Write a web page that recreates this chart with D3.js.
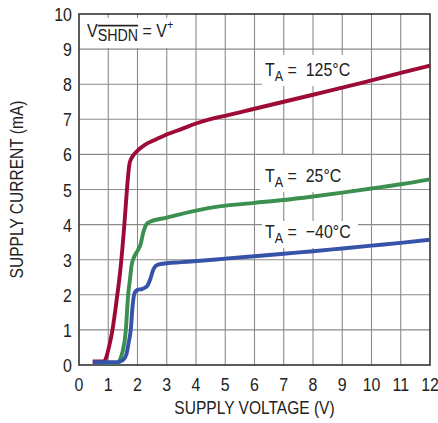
<!DOCTYPE html>
<html>
<head>
<meta charset="utf-8">
<script src="https://cdn.jsdelivr.net/npm/d3@7"></script>
<style>
  body { margin: 0; background: #fff; }
  svg text { font-family: "Liberation Sans", Arial, sans-serif; fill: #222; white-space: pre; }
</style>
</head>
<body>
<div id="chart"></div>
<script>
// supply voltage (V) vs supply current (mA)
var red125 = [
  [0.47, 0.1], [0.82, 0.1], [0.9, 0.15], [0.97, 0.33], [1.05, 0.6], [1.14, 0.98],
  [1.31, 2.0], [1.4, 2.6], [1.55, 3.99], [1.63, 4.9], [1.68, 5.4], [1.73, 5.75],
  [1.8, 5.9], [1.97, 6.08], [2.25, 6.27], [2.59, 6.41], [3.04, 6.58], [3.5, 6.72],
  [4.0, 6.88], [4.66, 7.04], [5, 7.1], [6, 7.3], [7, 7.5], [8, 7.7], [9, 7.9],
  [10, 8.11], [11, 8.32], [12, 8.53]
];
var green25 = [
  [0.75, 0.06], [1.3, 0.06], [1.4, 0.15], [1.49, 0.38], [1.6, 0.98], [1.68, 2.0],
  [1.74, 2.42], [1.8, 2.85], [1.87, 3.05], [2.02, 3.28], [2.1, 3.42], [2.19, 3.75],
  [2.3, 4.0], [2.4, 4.07], [3, 4.2], [4, 4.4], [4.8, 4.52], [6, 4.62], [7, 4.7],
  [8, 4.8], [9, 4.91], [10, 5.03], [11, 5.15], [12, 5.29]
];
var blueM40 = [
  [0.47, 0.08], [1.3, 0.08], [1.5, 0.14], [1.62, 0.3], [1.7, 0.65], [1.77, 1.0],
  [1.83, 1.66], [1.9, 2.05], [2.0, 2.14], [2.17, 2.17], [2.33, 2.25], [2.45, 2.48],
  [2.55, 2.74], [2.7, 2.86], [3.0, 2.9], [3.5, 2.93], [4.15, 2.97], [5, 3.03],
  [6, 3.1], [7, 3.17], [8, 3.24], [9, 3.32], [10, 3.4], [11, 3.48], [12, 3.57]
];
var xTicks = d3.range(0, 13);
var yTicks = d3.range(0, 11);

var W = 438, H = 423;
var m = {left: 79, right: 8, top: 14, bottom: 58};
var SX = 0.84; // condensed look

var svg = d3.select("#chart").append("svg")
  .attr("width", W).attr("height", H);

var x = d3.scaleLinear().domain([0, 12]).range([m.left, W - m.right]);
var y = d3.scaleLinear().domain([0, 10]).range([H - m.bottom, m.top]);

// narrow text helper
function txt(px, py, size, anchor, rot) {
  return svg.append("text")
    .attr("transform", "translate(" + px + "," + py + ")" + (rot ? " rotate(" + rot + ")" : "") + " scale(" + SX + ",1)")
    .attr("text-anchor", anchor || "start")
    .style("font-size", size + "px");
}

// grid
svg.append("g").selectAll("line")
  .data(xTicks.slice(1, -1)).enter().append("line")
  .attr("x1", d => x(d)).attr("x2", d => x(d))
  .attr("y1", y(0)).attr("y2", y(10))
  .style("stroke", "#8a8a8a").style("stroke-width", 1.1);
svg.append("g").selectAll("line")
  .data(yTicks.slice(1, -1)).enter().append("line")
  .attr("x1", x(0)).attr("x2", x(12))
  .attr("y1", d => y(d)).attr("y2", d => y(d))
  .style("stroke", "#8a8a8a").style("stroke-width", 1.1);

// white boxes behind the labels
var labels = [
  {t: "125°C", x: 265, y: 76, box: [262, 55, 96, 31]},
  {t: "25°C", x: 265, y: 182, box: [260, 155, 92, 37]},
  {t: "\u221240°C", x: 265, y: 238, box: [262, 221, 96, 27]}
];
svg.selectAll("rect.lb").data(labels).enter().append("rect")
  .attr("x", d => d.box[0]).attr("y", d => d.box[1])
  .attr("width", d => d.box[2]).attr("height", d => d.box[3])
  .style("fill", "#fff");
svg.append("rect").attr("x", 82).attr("y", 18).attr("width", 92).attr("height", 30).style("fill", "#fff");

// frame
svg.append("rect")
  .attr("x", x(0)).attr("y", y(10))
  .attr("width", x(12) - x(0)).attr("height", y(0) - y(10))
  .style("fill", "none").style("stroke", "#333").style("stroke-width", 1.6);

// curves
var line = d3.line().x(d => x(d[0])).y(d => y(d[1])).curve(d3.curveMonotoneX);
[[red125, "#9e0a36"], [green25, "#3b8f4f"], [blueM40, "#3553a8"]].forEach(function (s) {
  svg.append("path").datum(s[0]).attr("d", line)
    .style("fill", "none").style("stroke", s[1])
    .style("stroke-width", 3.9).style("stroke-linejoin", "round");
});

// tick labels
xTicks.forEach(function (d) { txt(x(d), y(0) + 26, 19, "middle").text(d); });
yTicks.forEach(function (d) { txt(x(0) - 7, y(d) + 7, 19, "end").text(d); });

// axis titles
txt((x(0) + x(12)) / 2, 414, 18.5, "middle").text("SUPPLY VOLTAGE (V)");
txt(23, (y(0) + y(10)) / 2, 18.5, "middle", -90).text("SUPPLY CURRENT (mA)");

// temperature labels
labels.forEach(function (d) {
  var t = txt(d.x, d.y, 19);
  t.append("tspan").text("T");
  t.append("tspan").attr("dy", 5).style("font-size", "15px").text("A");
  t.append("tspan").attr("dy", -5).text(" =  " + d.t);
});

// V_SHDN = V+
var vs = txt(87, 37, 19);
vs.append("tspan").text("V");
vs.append("tspan").attr("dy", 4).style("font-size", "17px")
  .style("text-decoration", "overline").text("SHDN");
vs.append("tspan").attr("dy", -4).text(" = V");
vs.append("tspan").attr("dy", -8).style("font-size", "13px").text("+");
</script>
</body>
</html>
